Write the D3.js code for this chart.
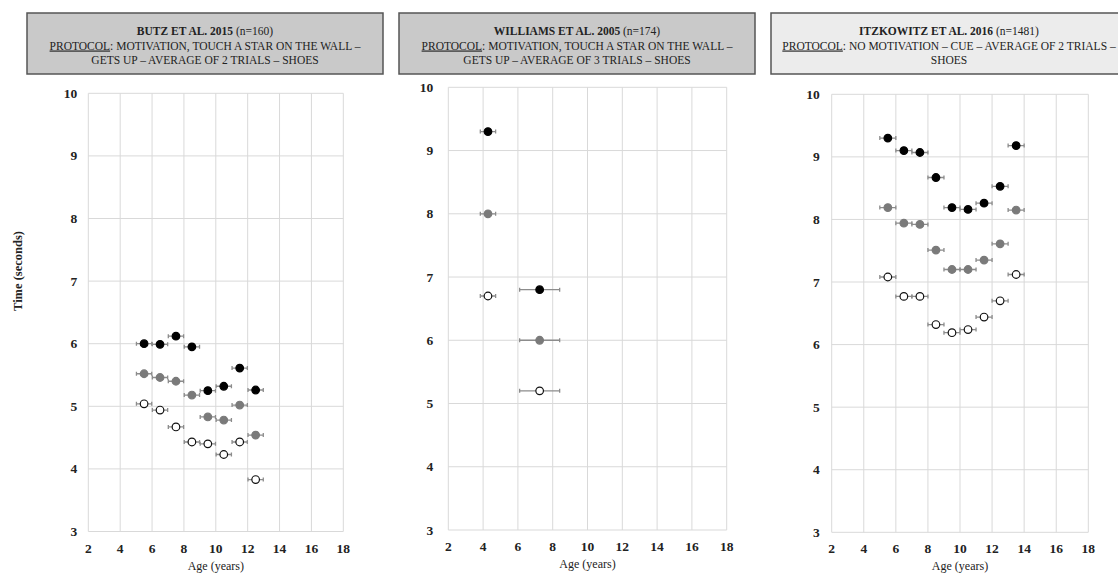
<!DOCTYPE html>
<html>
<head>
<meta charset="utf-8">
<script src="https://cdn.jsdelivr.net/npm/d3@7"></script>
<style>
  body { margin: 0; background: #fff; }
  svg { display: block; font-family: 'Liberation Serif', 'Times New Roman', serif; }
  .grid line { stroke: #d9d9d9; stroke-width: 1; }
  .tick-y, .tick-x { font-size: 13.5px; font-weight: bold; fill: #222; }
  .axis-title { font-size: 12px; fill: #222; }
  .head text { font-size: 11.5px; fill: #222; }
</style>
</head>
<body>
<script>
/* global d3 */
(function () {
  'use strict'

  // shared axes
  var yTicks = [3, 4, 5, 6, 7, 8, 9, 10]
  var xTicks = [2, 4, 6, 8, 10, 12, 14, 16, 18]

  // Butz et al. 2015
  var butzAges = [5.5, 6.5, 7.5, 8.5, 9.5, 10.5, 11.5, 12.5]
  var butzAgeErr = [0.48, 0.48, 0.48, 0.48, 0.48, 0.48, 0.48, 0.48]
  var butzTop = [6.0, 5.99, 6.12, 5.95, 5.25, 5.32, 5.61, 5.26]
  var butzMid = [5.52, 5.46, 5.40, 5.18, 4.83, 4.78, 5.02, 4.54]
  var butzLow = [5.04, 4.94, 4.67, 4.43, 4.40, 4.23, 4.43, 3.83]

  // Williams et al. 2005
  var williamsAges = [4.28, 7.25]
  var williamsAgeErr = [0.44, 1.15]
  var williamsTop = [9.3, 6.8]
  var williamsMid = [8.0, 6.0]
  var williamsLow = [6.7, 5.2]

  // Itzkowitz et al. 2016
  var itzAges = [5.5, 6.5, 7.5, 8.5, 9.5, 10.5, 11.5, 12.5, 13.5]
  var itzAgeErr = [0.5, 0.5, 0.5, 0.5, 0.5, 0.5, 0.5, 0.5, 0.5]
  var itzTop = [9.30, 9.10, 9.07, 8.67, 8.19, 8.16, 8.26, 8.53, 9.18]
  var itzMid = [8.19, 7.94, 7.92, 7.51, 7.20, 7.20, 7.35, 7.61, 8.15]
  var itzLow = [7.08, 6.77, 6.77, 6.32, 6.19, 6.24, 6.44, 6.70, 7.12]

  var studies = [
    { title: 'BUTZ ET AL. 2015', n: '(n=160)',
      protocol: ':  MOTIVATION, TOUCH A STAR ON THE WALL \u2013', rest: 'GETS UP \u2013 AVERAGE  OF 2 TRIALS \u2013 SHOES',
      ages: butzAges, err: butzAgeErr, top: butzTop, mid: butzMid, low: butzLow },
    { title: 'WILLIAMS ET AL. 2005', n: '(n=174)',
      protocol: ':  MOTIVATION, TOUCH A STAR ON THE WALL \u2013', rest: 'GETS UP \u2013 AVERAGE OF 3 TRIALS \u2013 SHOES',
      ages: williamsAges, err: williamsAgeErr, top: williamsTop, mid: williamsMid, low: williamsLow },
    { title: 'ITZKOWITZ  ET AL. 2016', n: '(n=1481)',
      protocol: ': NO MOTIVATION \u2013 CUE \u2013 AVERAGE OF 2 TRIALS \u2013', rest: 'SHOES',
      ages: itzAges, err: itzAgeErr, top: itzTop, mid: itzMid, low: itzLow }
  ]

  // layout of the three panels
  var frames = [
    { x0: 88.3, x1: 343.3, y0: 93.3, y1: 531.5, box: [27, 383], fill: '#c9c9c9', tickGap: 11 },
    { x0: 448.3, x1: 726.7, y0: 87.3, y1: 530, box: [399, 755], fill: '#c9c9c9', tickGap: 15 },
    { x0: 831.7, x1: 1088.3, y0: 94.3, y1: 532.3, box: [771, 1127], fill: '#ececec', tickGap: 12 }
  ]

  var styles = [
    { key: 'low', fill: '#fff', stroke: '#111' },
    { key: 'mid', fill: '#7a7a7a', stroke: '#7a7a7a' },
    { key: 'top', fill: '#000', stroke: '#000' }
  ]

  var svg = d3.select('body').append('svg')
    .attr('width', 1118)
    .attr('height', 573)

  studies.forEach(function (s, i) { plotPanel(svg.append('g'), s, frames[i]) })

  svg.append('text')
    .attr('class', 'axis-title')
    .attr('transform', 'translate(22,271) rotate(-90)')
    .attr('text-anchor', 'middle')
    .attr('font-weight', 'bold')
    .style('font-size', '12.5px')
    .text('Time (seconds)')

  function plotPanel (g, s, f) {
    var x = d3.scaleLinear().domain([2, 18]).range([f.x0, f.x1])
    var y = d3.scaleLinear().domain([3, 10]).range([f.y1, f.y0])

    plotHeader(g, s, f)

    var grid = g.append('g').attr('class', 'grid')
    grid.selectAll('.gy').data(yTicks).enter().append('line')
      .attr('x1', f.x0).attr('x2', f.x1)
      .attr('y1', function (d) { return y(d) }).attr('y2', function (d) { return y(d) })
    grid.selectAll('.gx').data(xTicks).enter().append('line')
      .attr('y1', f.y0).attr('y2', f.y1)
      .attr('x1', function (d) { return x(d) }).attr('x2', function (d) { return x(d) })

    g.selectAll('.tick-y').data(yTicks).enter().append('text')
      .attr('class', 'tick-y')
      .attr('x', f.x0 - f.tickGap)
      .attr('y', function (d) { return y(d) + 4.5 })
      .attr('text-anchor', 'end')
      .text(function (d) { return d })

    g.selectAll('.tick-x').data(xTicks).enter().append('text')
      .attr('class', 'tick-x')
      .attr('x', function (d) { return x(d) })
      .attr('y', f.y1 + 21)
      .attr('text-anchor', 'middle')
      .text(function (d) { return d })

    g.append('text')
      .attr('class', 'axis-title')
      .attr('x', (f.x0 + f.x1) / 2)
      .attr('y', f.y1 + 38)
      .attr('text-anchor', 'middle')
      .text('Age (years)')

    styles.forEach(function (st) {
      var pts = s.ages.map(function (a, k) {
        return { age: a, err: s.err[k], v: s[st.key][k] }
      })
      var pg = g.append('g')

      // horizontal error bars with small caps
      pg.selectAll('.eb').data(pts).enter().append('path')
        .attr('fill', 'none')
        .attr('stroke', '#8c8c8c')
        .attr('stroke-width', 1.3)
        .attr('d', function (d) {
          var a = x(d.age - d.err)
          var b = x(d.age + d.err)
          var yy = y(d.v)
          return 'M' + a + ',' + yy + 'H' + b +
            'M' + a + ',' + (yy - 2) + 'V' + (yy + 2) +
            'M' + b + ',' + (yy - 2) + 'V' + (yy + 2)
        })

      pg.selectAll('circle').data(pts).enter().append('circle')
        .attr('cx', function (d) { return x(d.age) })
        .attr('cy', function (d) { return y(d.v) })
        .attr('r', 3.8)
        .attr('fill', st.fill)
        .attr('stroke', st.stroke)
        .attr('stroke-width', 1.2)
    })
  }

  function plotHeader (g, s, f) {
    var h = g.append('g').attr('class', 'head')
    var cx = (f.box[0] + f.box[1]) / 2

    h.append('rect')
      .attr('x', f.box[0]).attr('y', 13)
      .attr('width', f.box[1] - f.box[0]).attr('height', 61)
      .attr('fill', f.fill)
      .attr('stroke', '#555')
      .attr('stroke-width', 1.5)

    var l1 = h.append('text').attr('x', cx).attr('y', 35).attr('text-anchor', 'middle')
    l1.append('tspan').attr('font-weight', 'bold').text(s.title + ' ')
    l1.append('tspan').text(s.n)

    var l2 = h.append('text').attr('x', cx).attr('y', 49.5).attr('text-anchor', 'middle')
    l2.append('tspan').attr('text-decoration', 'underline').text('PROTOCOL')
    l2.append('tspan').text(s.protocol)

    h.append('text').attr('x', cx).attr('y', 64).attr('text-anchor', 'middle')
      .text(s.rest)
  }
}())
</script>
</body>
</html>
